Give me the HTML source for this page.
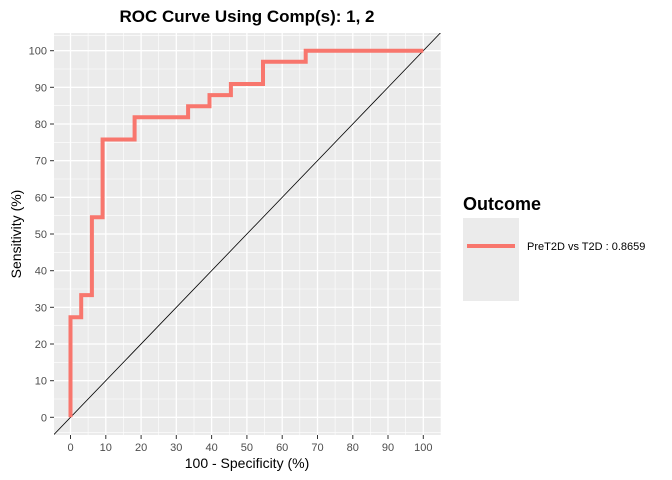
<!DOCTYPE html>
<html><head><style>body{margin:0;background:#fff}svg{display:block;font-family:"Liberation Sans",sans-serif}</style></head>
<body>
<svg width="672" height="480" viewBox="0 0 672 480">
<script></script>
<rect x="54" y="33" width="387" height="402" fill="#ebebeb"/>
<g id="g"></g>
<defs><clipPath id="c"><rect x="54" y="33" width="387" height="402"/></clipPath></defs>
<g stroke="#fff" stroke-width="0.6">
<line x1="54" x2="441" y1="399" y2="399"/><line x1="54" x2="441" y1="362.3" y2="362.3"/><line x1="54" x2="441" y1="325.7" y2="325.7"/><line x1="54" x2="441" y1="289" y2="289"/><line x1="54" x2="441" y1="252.3" y2="252.3"/><line x1="54" x2="441" y1="215.7" y2="215.7"/><line x1="54" x2="441" y1="179" y2="179"/><line x1="54" x2="441" y1="142.3" y2="142.3"/><line x1="54" x2="441" y1="105.7" y2="105.7"/><line x1="54" x2="441" y1="69" y2="69"/>
<line x1="54" x2="441" y1="432.3" y2="432.3"/><line x1="54" x2="441" y1="35.7" y2="35.7"/>
<line y1="33" y2="435" x1="88.1" x2="88.1"/><line y1="33" y2="435" x1="123.4" x2="123.4"/><line y1="33" y2="435" x1="158.7" x2="158.7"/><line y1="33" y2="435" x1="194" x2="194"/><line y1="33" y2="435" x1="229.3" x2="229.3"/><line y1="33" y2="435" x1="264.5" x2="264.5"/><line y1="33" y2="435" x1="299.8" x2="299.8"/><line y1="33" y2="435" x1="335.1" x2="335.1"/><line y1="33" y2="435" x1="370.4" x2="370.4"/><line y1="33" y2="435" x1="405.7" x2="405.7"/><line y1="33" y2="435" x1="441" x2="441"/>
</g>
<g stroke="#fff" stroke-width="1.3">
<line x1="54" x2="441" y1="417.3" y2="417.3"/><line x1="54" x2="441" y1="380.7" y2="380.7"/><line x1="54" x2="441" y1="344" y2="344"/><line x1="54" x2="441" y1="307.3" y2="307.3"/><line x1="54" x2="441" y1="270.7" y2="270.7"/><line x1="54" x2="441" y1="234" y2="234"/><line x1="54" x2="441" y1="197.3" y2="197.3"/><line x1="54" x2="441" y1="160.7" y2="160.7"/><line x1="54" x2="441" y1="124" y2="124"/><line x1="54" x2="441" y1="87.3" y2="87.3"/><line x1="54" x2="441" y1="50.7" y2="50.7"/>
<line y1="33" y2="435" x1="70.5" x2="70.5"/><line y1="33" y2="435" x1="105.8" x2="105.8"/><line y1="33" y2="435" x1="141.1" x2="141.1"/><line y1="33" y2="435" x1="176.3" x2="176.3"/><line y1="33" y2="435" x1="211.6" x2="211.6"/><line y1="33" y2="435" x1="246.9" x2="246.9"/><line y1="33" y2="435" x1="282.2" x2="282.2"/><line y1="33" y2="435" x1="317.5" x2="317.5"/><line y1="33" y2="435" x1="352.8" x2="352.8"/><line y1="33" y2="435" x1="388" x2="388"/><line y1="33" y2="435" x1="423.3" x2="423.3"/>
</g>
<line clip-path="url(#c)" x1="54" y1="434.5" x2="441" y2="32.3" stroke="#000" stroke-width="0.8"/>
<polyline fill="none" stroke="#f8766d" stroke-width="4" stroke-linejoin="miter" points="70.5,417.3 70.5,317.3 81.2,317.3 81.2,295.1 91.9,295.1 91.9,217.3 102.6,217.3 102.6,139.5 134.6,139.5 134.6,117.3 188.1,117.3 188.1,106.2 209.5,106.2 209.5,95.1 230.9,95.1 230.9,84 263,84 263,61.8 305.7,61.8 305.7,50.7 423.3,50.7"/>
<g stroke="#333" stroke-width="1">
<line x1="50" x2="54" y1="417.3" y2="417.3"/><line x1="50" x2="54" y1="380.7" y2="380.7"/><line x1="50" x2="54" y1="344" y2="344"/><line x1="50" x2="54" y1="307.3" y2="307.3"/><line x1="50" x2="54" y1="270.7" y2="270.7"/><line x1="50" x2="54" y1="234" y2="234"/><line x1="50" x2="54" y1="197.3" y2="197.3"/><line x1="50" x2="54" y1="160.7" y2="160.7"/><line x1="50" x2="54" y1="124" y2="124"/><line x1="50" x2="54" y1="87.3" y2="87.3"/><line x1="50" x2="54" y1="50.7" y2="50.7"/>
<line y1="435" y2="439" x1="70.5" x2="70.5"/><line y1="435" y2="439" x1="105.8" x2="105.8"/><line y1="435" y2="439" x1="141.1" x2="141.1"/><line y1="435" y2="439" x1="176.3" x2="176.3"/><line y1="435" y2="439" x1="211.6" x2="211.6"/><line y1="435" y2="439" x1="246.9" x2="246.9"/><line y1="435" y2="439" x1="282.2" x2="282.2"/><line y1="435" y2="439" x1="317.5" x2="317.5"/><line y1="435" y2="439" x1="352.8" x2="352.8"/><line y1="435" y2="439" x1="388" x2="388"/><line y1="435" y2="439" x1="423.3" x2="423.3"/>
</g>
<g fill="#4d4d4d" font-size="11" text-anchor="end">
<text x="47" y="421.3">0</text><text x="47" y="384.7">10</text><text x="47" y="348">20</text><text x="47" y="311.3">30</text><text x="47" y="274.7">40</text><text x="47" y="238">50</text><text x="47" y="201.3">60</text><text x="47" y="164.7">70</text><text x="47" y="128">80</text><text x="47" y="91.3">90</text><text x="47" y="54.7">100</text>
</g>
<g fill="#4d4d4d" font-size="11" text-anchor="middle">
<text x="70.5" y="451">0</text><text x="105.8" y="451">10</text><text x="141.1" y="451">20</text><text x="176.3" y="451">30</text><text x="211.6" y="451">40</text><text x="246.9" y="451">50</text><text x="282.2" y="451">60</text><text x="317.5" y="451">70</text><text x="352.8" y="451">80</text><text x="388" y="451">90</text><text x="423.3" y="451">100</text>
</g>
<text x="247" y="468" font-size="14" text-anchor="middle">100 - Specificity (%)</text>
<text transform="translate(21,234) rotate(-90)" font-size="14" text-anchor="middle">Sensitivity (%)</text>
<text x="247" y="22" font-size="17" font-weight="bold" text-anchor="middle">ROC Curve Using Comp(s): 1, 2</text>
<text x="463" y="210" font-size="18" font-weight="bold">Outcome</text>
<rect x="463" y="218" width="56" height="83" fill="#ebebeb"/>
<line x1="467" x2="515" y1="246" y2="246" stroke="#f8766d" stroke-width="4"/>
<text x="527" y="250" font-size="11">PreT2D vs T2D : 0.8659</text>
</svg>
</body></html>
